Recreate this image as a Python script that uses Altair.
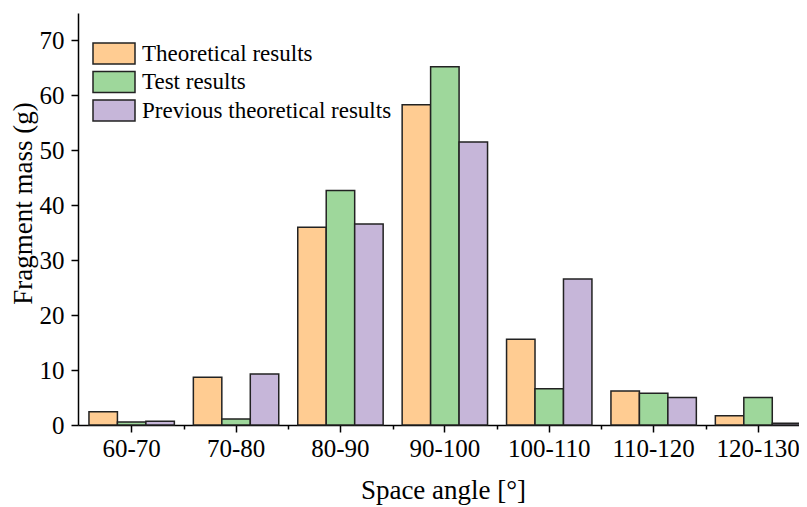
import altair as alt
import pandas as pd

categories = ["60-70", "70-80", "80-90", "90-100", "100-110", "110-120", "120-130"]
series = ["Theoretical results", "Test results", "Previous theoretical results"]
theoretical = [2.4, 8.7, 36.0, 58.3, 15.6, 6.2, 1.7]
test = [0.55, 1.1, 42.7, 65.2, 6.6, 5.8, 5.0]
previous = [0.7, 9.3, 36.6, 51.5, 26.6, 5.0, 0.3]
colors = ["#FFCC92", "#9ED79B", "#C6B6D9"]

rows = []
for s, vals in zip(series, [theoretical, test, previous]):
    for c, v in zip(categories, vals):
        rows.append({"Space angle": c, "Series": s, "Mass": v})
df = pd.DataFrame(rows)

FONT = "Liberation Serif"
# the x scale runs a little past the visible plot (the reference is cropped at the right)
xscale = alt.Scale(domain=categories, paddingInner=0.182, paddingOuter=0.105, range=[0, 733.7])

bars = alt.Chart(df).mark_bar(stroke="#222222", strokeWidth=1.5).encode(
    x=alt.X(
        "Space angle:N",
        scale=xscale,
        sort=categories,
        axis=alt.Axis(
            title="Space angle [°]",
            orient="bottom",
            labelAngle=0,
            tickSize=7,
            labelPadding=4,
            titleX=365,
            titleY=73,
            titleBaseline="alphabetic",
        ),
    ),
    xOffset=alt.XOffset("Series:N", sort=series,
                        scale=alt.Scale(domain=series, paddingInner=0, paddingOuter=0)),
    y=alt.Y(
        "Mass:Q",
        scale=alt.Scale(domain=[0, 75], nice=False),
        axis=alt.Axis(
            title="Fragment mass (g)",
            values=list(range(0, 75, 5)),
            labelExpr="datum.value % 10 === 0 ? datum.label : ''",
            tickSize={"condition": {"test": "datum.value % 10 === 0", "value": 7}, "value": 4},
            labelPadding=7,
            titleX=-55,
            titleY=190,
            titleBaseline="middle",
        ),
    ),
    color=alt.Color(
        "Series:N",
        sort=series,
        scale=alt.Scale(domain=series, range=colors),
        legend=alt.Legend(
            title=None,
            orient="none",
            legendX=14,
            legendY=29,
            symbolType="M-1,-1H3V1H-1Z",
            symbolSize=441,
            symbolStrokeColor="#222222",
            symbolStrokeWidth=1.5,
            symbolOpacity=1,
            labelFont=FONT,
            labelFontSize=23,
            labelColor="black",
            labelLimit=0,
            labelOffset=27,
            rowPadding=1.5,
        ),
    ),
)

minor = alt.Chart(df).mark_bar(opacity=0).encode(
    x=alt.X(
        "Space angle:N",
        scale=xscale,
        sort=categories,
        axis=alt.Axis(
            title=None,
            orient="bottom",
            values=categories[:-1],
            labels=False,
            domain=False,
            tickSize=4,
            bandPosition=1,
            tickOffset=9.5,
        ),
    ),
    y=alt.Y("Mass:Q", scale=alt.Scale(domain=[0, 75], nice=False)),
)

chart = (
    alt.layer(bars, minor)
    .resolve_axis(x="independent")
    .properties(
        width=721,
        height=412,
        autosize=alt.AutoSizeParams(type="none"),
        padding={"left": 70, "top": 5, "right": 0, "bottom": 90},
    )
    .configure_view(stroke=None)
    .configure_axis(
        grid=False,
        domainColor="black",
        domainWidth=1.5,
        tickColor="black",
        tickWidth=1.5,
        labelFont=FONT,
        labelFontSize=25,
        labelColor="black",
        titleFont=FONT,
        titleFontSize=27,
        titleFontWeight="normal",
        titleColor="black",
    )
)

chart.save("out.html", embed_options={"renderer": "svg", "actions": False})
